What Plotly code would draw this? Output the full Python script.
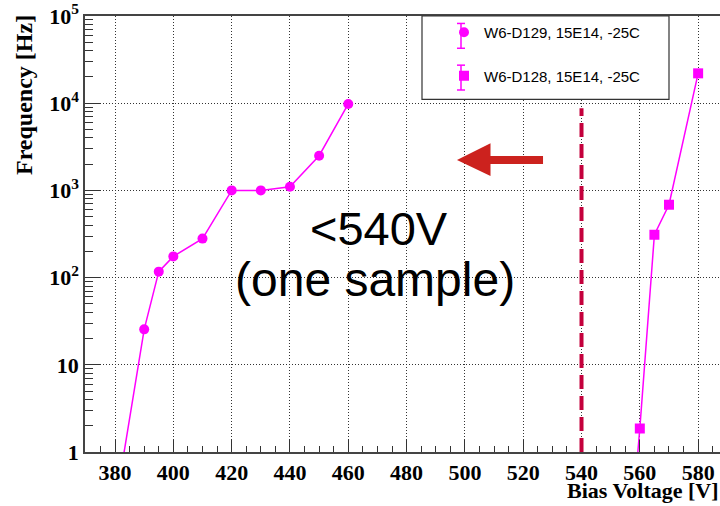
import plotly.graph_objects as go

# ---- data ----
volt_d129 = [380, 390, 395, 400, 410, 420, 430, 440, 450, 460]
freq_d129 = [0.23, 25.5, 117, 175, 280, 1000, 1000, 1100, 2500, 9800]
volt_d128 = [555, 560, 565, 570, 580]
freq_d128 = [0.02, 1.86, 310, 685, 22000]
name_d129 = "W6-D129, 15E14, -25C"
name_d128 = "W6-D128, 15E14, -25C"
x_ticks = [380, 400, 420, 440, 460, 480, 500, 520, 540, 560, 580]
y_tickvals = [1, 10, 100, 1000, 10000, 100000]
y_ticktext = ["1", "10", "10<sup>2</sup>", "10<sup>3</sup>", "10<sup>4</sup>", "10<sup>5</sup>"]
cut_voltage = 540

MAG = "#ff00ff"
SERIF = "Liberation Serif"
SANS = "Liberation Sans"

W, H = 720, 506
L, R, T, B = 85, 0, 13, 54
PW, PH = W - L - R, H - T - B


def px(x):
    return (x - L) / PW


def py(y):
    return (H - B - y) / PH


fig = go.Figure()
for vx, vy, nm, sym in [(volt_d129, freq_d129, name_d129, "circle"),
                        (volt_d128, freq_d128, name_d128, "square")]:
    fig.add_trace(go.Scatter(x=vx, y=vy, mode="lines", showlegend=False,
                             line=dict(color=MAG, width=1.5), hoverinfo="skip"))
    fig.add_trace(go.Scatter(x=vx, y=vy, mode="markers", name=nm, legendgroup=nm,
                             marker=dict(symbol=sym, size=10, color=MAG)))

minor_y = [m * 10 ** k for k in range(0, 5) for m in range(2, 10)]

fig.update_layout(
    width=W, height=H,
    margin=dict(l=L, r=R, t=T, b=B),
    paper_bgcolor="white", plot_bgcolor="white",
    showlegend=True,
    legend=dict(x=px(444), y=py(13), xanchor="left", yanchor="top",
                bgcolor="rgba(0,0,0,0)", borderwidth=0,
                font=dict(family=SANS, size=15, color="black"),
                tracegroupgap=21),
    xaxis=dict(range=[369.7, 587.5], tickvals=x_ticks, ticks="inside", ticklen=12,
               tickcolor="#333", linecolor="#444", linewidth=1.5, mirror=True,
               showgrid=True, gridcolor="#333", griddash="1px,2px", gridwidth=1,
               zeroline=False,
               tickfont=dict(family=SERIF, size=22, color="black", weight="bold"),
               minor=dict(dtick=5, tick0=380, ticks="inside", ticklen=6, tickcolor="#333",
                          showgrid=False)),
    yaxis=dict(type="log", range=[0, 5], tickvals=y_tickvals, ticktext=y_ticktext,
               ticks="inside", ticklen=15, tickcolor="#333", linecolor="#444",
               linewidth=1.5, mirror=False, ticklabeloverflow="allow",
               showgrid=True, gridcolor="#333", griddash="1px,2px", gridwidth=1,
               zeroline=False,
               tickfont=dict(family=SERIF, size=22, color="black", weight="bold"),
               minor=dict(tickvals=minor_y, ticks="inside", ticklen=8, tickcolor="#333",
                          showgrid=False)),
)

# legend frame
fig.add_shape(type="rect", xref="paper", yref="paper", x0=px(422), x1=px(669),
              y0=py(97), y1=1.0, fillcolor="white", line=dict(color="#333", width=1.2),
              layer="above")
# legend error-bar glyphs
for cy in (33, 75):
    fig.add_shape(type="line", xref="paper", yref="paper", x0=px(461), x1=px(461),
                  y0=py(cy - 12.5), y1=py(cy + 12.5), line=dict(color=MAG, width=1.5),
                  layer="above")
    for ey in (cy - 12.5, cy + 12.5):
        fig.add_shape(type="line", xref="paper", yref="paper", x0=px(457), x1=px(465),
                      y0=py(ey), y1=py(ey), line=dict(color=MAG, width=1.5), layer="above")

# dashed cut line
fig.add_shape(type="line", xref="x", yref="paper", x0=cut_voltage, x1=cut_voltage,
              y0=0, y1=py(106), line=dict(color="#c4003c", width=4, dash="14px,7px"),
              layer="above")

# arrow
pts = [(457, 158), (490.5, 141), (490.5, 154), (543, 154), (543, 162), (490.5, 162), (490.5, 174)]
path = "M " + " L ".join(f"{px(a):.4f},{py(b):.4f}" for a, b in pts) + " Z"
fig.add_shape(type="path", xref="paper", yref="paper", path=path,
              fillcolor="#cc221e", line=dict(width=0), layer="above")

# annotations
fig.add_annotation(text="&lt;540V", xref="paper", yref="paper", x=px(379), y=py(226.5),
                   showarrow=False, xanchor="center", yanchor="middle",
                   font=dict(family=SANS, size=47, color="black"))
fig.add_annotation(text="(one sample)", xref="paper", yref="paper", x=px(375), y=py(278.5),
                   showarrow=False, xanchor="center", yanchor="middle",
                   font=dict(family=SANS, size=48, color="black"))
fig.add_annotation(text="<b>Frequency [Hz]</b>", xref="paper", yref="paper", x=px(24), y=py(10),
                   showarrow=False, xanchor="center", yanchor="top", textangle=-90,
                   font=dict(family=SERIF, size=24, color="black"))
fig.add_annotation(text="<b>Bias Voltage [V]</b>", xref="paper", yref="paper", x=px(565), y=py(491),
                   showarrow=False, xanchor="left", yanchor="middle",
                   font=dict(family=SERIF, size=22, color="black"))

fig.write_html("out.html")
